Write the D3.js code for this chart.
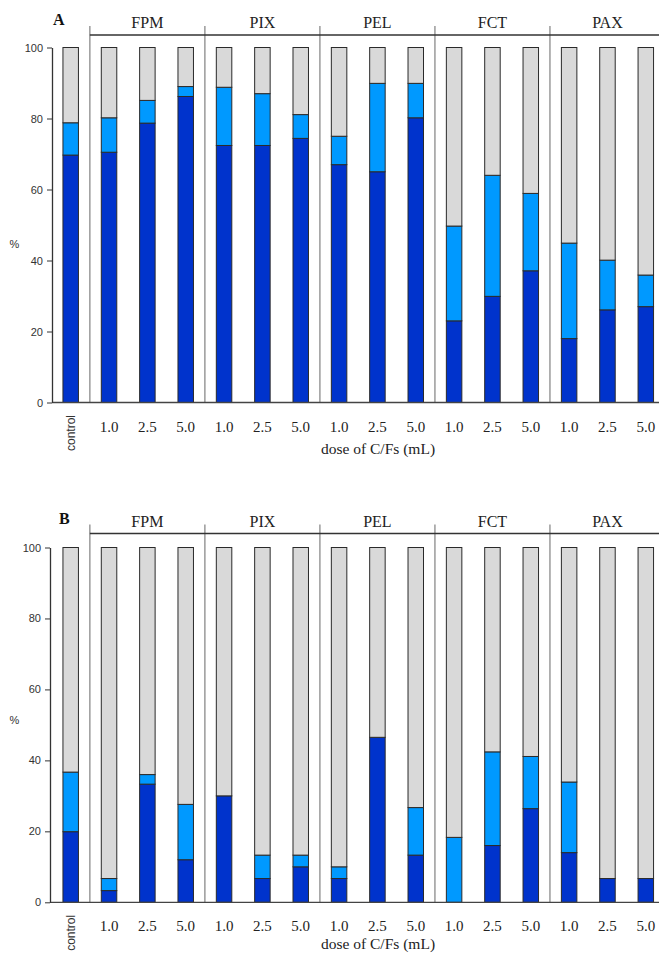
<!DOCTYPE html>
<html>
<head>
<meta charset="utf-8">
<script src="https://cdn.jsdelivr.net/npm/d3@7/dist/d3.min.js"></script>
<style>
  html, body { margin: 0; padding: 0; background: #fff; }
  svg { display: block; }
</style>
</head>
<body>
<script>
// Treatment groups and dose levels of C/Fs
const groupNames = ["FPM", "PIX", "PEL", "FCT", "PAX"];
const doseLevels = ["1.0", "2.5", "5.0"];
const categories = ["control"].concat(groupNames.flatMap(g => doseLevels.map(d => g + " " + d)));
const seriesKeys = ["dark", "light", "rest"];
const yTicks = [0, 20, 40, 60, 80, 100];

// Panel A: stacked segment shares (%)
const panelA_dark  = [69.7, 70.5, 78.7, 86.2, 72.4, 72.4, 74.4, 67.0, 65.0, 80.2, 23.0, 29.9, 37.1, 18.0, 26.1, 27.0];
const panelA_light = [ 9.1,  9.7,  6.4,  2.8, 16.4, 14.6,  6.7,  8.0, 24.9,  9.7, 26.7, 34.1, 21.8, 26.9, 14.0,  8.9];
const panelA_rest  = [21.2, 19.8, 14.9, 11.0, 11.2, 13.0, 18.9, 25.0, 10.1, 10.1, 50.3, 36.0, 41.1, 55.1, 59.9, 64.1];

// Panel B: stacked segment shares (%)
const panelB_dark  = [19.9,  3.3, 33.3, 12.0, 30.0,  6.7, 10.0,  6.7, 46.5, 13.3,  0.0, 16.0, 26.4, 14.0,  6.7,  6.7];
const panelB_light = [16.8,  3.4,  2.7, 15.6,  0.0,  6.6,  3.3,  3.3,  0.0, 13.4, 18.3, 26.4, 14.7, 19.9,  0.0,  0.0];
const panelB_rest  = [63.3, 93.3, 64.0, 72.4, 70.0, 86.7, 86.7, 90.0, 53.5, 73.3, 81.7, 57.6, 58.9, 66.1, 93.3, 93.3];

const W = 659, H = 954;
const colors = { dark: "#0033CC", light: "#0099FF", rest: "#D9D9D9" };
const serif = "'Liberation Serif', 'Times New Roman', serif";
const sans = "'Liberation Sans', Arial, sans-serif";

const svg = d3.select("body").append("svg")
  .attr("width", W).attr("height", H)
  .attr("viewBox", `0 0 ${W} ${H}`);

const x = d3.scaleBand()
  .domain(categories)
  .range([52, 664.5])
  .paddingInner(0.596)
  .paddingOuter(0.2856);

function drawPanel(cfg, dark, light, rest) {
  const g = svg.append("g");
  const y = d3.scaleLinear().domain([0, 100]).range([cfg.y0, cfg.y100]);

  const rows = categories.map((c, i) => ({ cat: c, dark: dark[i], light: light[i], rest: rest[i] }));
  const stacked = d3.stack().keys(seriesKeys)(rows);

  // group separators (between control and groups, and between groups)
  const step = x.step(), bw = x.bandwidth();
  const sepX = [];
  categories.forEach((c, i) => {
    if (i === 0 || c.endsWith(doseLevels[doseLevels.length - 1])) {
      if (i < categories.length - 1) sepX.push(x(c) + bw + (step - bw) / 2);
    }
  });
  g.selectAll("line.sep").data(sepX).join("line")
    .attr("class", "sep")
    .attr("x1", d => d).attr("x2", d => d)
    .attr("y1", cfg.header - 9).attr("y2", cfg.y0)
    .attr("stroke", "#8a8a8a").attr("stroke-width", 1.3);

  // header line over the groups
  g.append("line")
    .attr("x1", sepX[0]).attr("x2", W)
    .attr("y1", cfg.header).attr("y2", cfg.header)
    .attr("stroke", "#333").attr("stroke-width", 1.3);

  // group names
  g.selectAll("text.grp").data(groupNames).join("text")
    .attr("class", "grp")
    .attr("x", gn => x(gn + " " + doseLevels[1]) + bw / 2)
    .attr("y", cfg.header - 7)
    .attr("text-anchor", "middle")
    .attr("font-family", serif).attr("font-size", 16)
    .attr("fill", "#222")
    .text(gn => gn);

  // panel letter
  g.append("text")
    .attr("x", cfg.letterX).attr("y", cfg.header - 10)
    .attr("font-family", serif).attr("font-size", 16).attr("font-weight", "bold")
    .attr("fill", "#111")
    .text(cfg.letter);

  // stacked bars
  g.selectAll("g.series").data(stacked).join("g")
    .attr("class", "series")
    .attr("fill", s => colors[s.key])
    .selectAll("rect")
    .data(s => s.filter(d => d[1] - d[0] > 0))
    .join("rect")
    .attr("x", d => x(d.data.cat))
    .attr("width", bw)
    .attr("y", d => y(d[1]))
    .attr("height", d => y(d[0]) - y(d[1]))
    .attr("stroke", "#2a2a2a")
    .attr("stroke-width", 1);

  // baseline
  g.append("line")
    .attr("x1", cfg.axisX).attr("x2", W)
    .attr("y1", cfg.y0).attr("y2", cfg.y0)
    .attr("stroke", "#444").attr("stroke-width", 1.3);

  // y axis
  const ax = g.append("g")
    .attr("transform", `translate(${cfg.axisX},0)`)
    .call(d3.axisLeft(y).tickValues(yTicks).tickSize(5).tickSizeOuter(0).tickPadding(4));
  ax.select(".domain").attr("stroke", "#333").attr("stroke-width", 1.3);
  ax.selectAll(".tick line").attr("stroke", "#333");
  ax.selectAll(".tick text")
    .attr("font-family", sans).attr("font-size", 11).attr("fill", "#333");

  // % label
  g.append("text")
    .attr("x", 14.5).attr("y", cfg.pctY)
    .attr("text-anchor", "middle").attr("dominant-baseline", "middle")
    .attr("font-family", sans).attr("font-size", 11).attr("fill", "#333")
    .text("%");

  // category labels
  categories.forEach(c => {
    const cx = x(c) + bw / 2;
    if (c === "control") {
      g.append("text")
        .attr("transform", `translate(${cx + 4.5},${cfg.y0 + 12.5}) rotate(-90)`)
        .attr("text-anchor", "end")
        .attr("font-family", sans).attr("font-size", 12).attr("fill", "#333")
        .text("control");
    } else {
      g.append("text")
        .attr("x", cx).attr("y", cfg.y0 + 29)
        .attr("text-anchor", "middle")
        .attr("font-family", serif).attr("font-size", 15).attr("fill", "#222")
        .text(c.split(" ")[1]);
    }
  });

  // axis title
  g.append("text")
    .attr("x", 378).attr("y", cfg.titleY)
    .attr("text-anchor", "middle")
    .attr("font-family", serif).attr("font-size", 15.5).attr("fill", "#222")
    .text("dose of C/Fs (mL)");
}

drawPanel({ letter: "A", letterX: 53, header: 35, y0: 402.5, y100: 47.5, axisX: 52, pctY: 245, titleY: 453.5 },
  panelA_dark, panelA_light, panelA_rest);
drawPanel({ letter: "B", letterX: 59, header: 533.5, y0: 902.3, y100: 547.5, axisX: 50, pctY: 721, titleY: 949 },
  panelB_dark, panelB_light, panelB_rest);
</script>
</body>
</html>
